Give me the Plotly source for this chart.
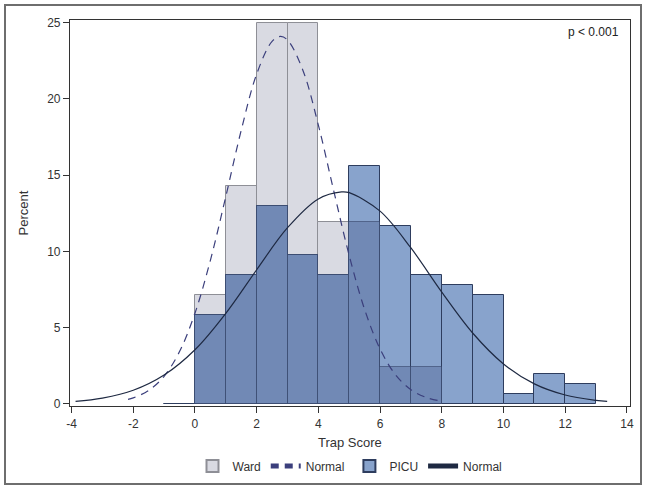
import plotly.graph_objects as go

# ---- data ----
ward_bin_left = [0, 1, 2, 3, 4, 5, 6, 7]
ward_pct = [7.14, 14.29, 25.0, 25.0, 11.90, 11.90, 2.38, 2.38]

picu_bin_left = [-1, 0, 1, 2, 3, 4, 5, 6, 7, 8, 9, 10, 11, 12]
picu_pct = [0.0, 5.84, 8.44, 12.99, 9.74, 8.44, 15.58, 11.69, 8.44, 7.79, 7.14, 0.65, 1.95, 1.30]

ward_norm_x = [-2.17, -2.0, -1.5, -1.0, -0.5, 0.0, 0.5, 1.0, 1.5, 2.0, 2.5, 2.77, 3.0, 3.5,
               4.0, 4.5, 5.0, 5.5, 6.0, 6.5, 7.0, 7.5, 8.0]
ward_norm_y = [0.28, 0.38, 0.87, 1.80, 3.42, 5.94, 9.41, 13.60, 17.95, 21.63, 23.78, 24.1, 23.87, 21.87,
               18.28, 13.95, 9.72, 6.18, 3.59, 1.90, 0.92, 0.41, 0.16]

picu_norm_x = [-3.87, -3.0, -2.0, -1.0, 0.0, 1.0, 2.0, 3.0, 4.0, 4.75, 5.0, 6.0, 7.0, 8.0,
               9.0, 10.0, 11.0, 12.0, 13.0, 13.36]
picu_norm_y = [0.15, 0.37, 0.88, 1.88, 3.54, 5.93, 8.79, 11.55, 13.44, 13.90, 13.85, 12.64, 10.22, 7.32,
               4.64, 2.61, 1.30, 0.57, 0.22, 0.15]

x_ticks = [-4, -2, 0, 2, 4, 6, 8, 10, 12, 14]
y_ticks = [0, 5, 10, 15, 20, 25]

BIN_W = 1.0
FONT = "Arial, 'Liberation Sans', Helvetica, sans-serif"

ward_centers = [b + BIN_W / 2 for b in ward_bin_left]
picu_centers = [b + BIN_W / 2 for b in picu_bin_left]
picu_lookup = dict(zip(picu_bin_left, picu_pct))
overlap_pct = [min(w, picu_lookup.get(b, 0.0)) for b, w in zip(ward_bin_left, ward_pct)]

fig = go.Figure()

fig.add_trace(go.Bar(
    x=ward_centers, y=ward_pct, width=BIN_W, name="Ward",
    marker=dict(color="#D9DAE2", line=dict(color="#8E8F96", width=1)),
    showlegend=True,
))
fig.add_trace(go.Scatter(
    x=ward_norm_x, y=ward_norm_y, mode="lines", name="Normal",
    line=dict(color="#3B3F7C", width=1.2, dash="8px,6px", shape="spline", smoothing=1.0),
))
fig.add_trace(go.Bar(
    x=picu_centers, y=picu_pct, width=BIN_W, name="PICU",
    marker=dict(color="#88A3CC", line=dict(color="#2E3D5E", width=1)),
))
fig.add_trace(go.Bar(
    x=ward_centers, y=overlap_pct, width=BIN_W, name="overlap",
    marker=dict(color="#7189B5", line=dict(color="rgba(46,61,94,0.55)", width=1)),
    showlegend=False, hoverinfo="skip",
))
fig.add_trace(go.Scatter(
    x=picu_norm_x, y=picu_norm_y, mode="lines", name="Normal",
    line=dict(color="#1E2942", width=1.2, shape="spline", smoothing=1.0),
))

# layout geometry in pixels
L, R, T, B = 70, 630, 20, 406
W = R - L
H = B - T
def px(xp):
    return (xp - L) / W
def py(yp):
    return (B - yp) / H

# outer frame around whole graph
fig.add_shape(type="rect", xref="paper", yref="paper",
              x0=px(5), x1=px(641), y0=py(484), y1=py(5),
              line=dict(color="#6E6E6E", width=2), fillcolor="rgba(0,0,0,0)", layer="below")

fig.add_annotation(text="p < 0.001", xref="paper", yref="paper",
                   x=px(621), y=py(32), xanchor="right", yanchor="middle",
                   showarrow=False, font=dict(family=FONT, size=12, color="#222"))

# x-axis title
fig.add_annotation(text="Trap Score", xref="paper", yref="paper",
                   x=0.5, y=py(443), xanchor="center", yanchor="middle",
                   showarrow=False, font=dict(family=FONT, size=13, color="#333"))

fig.update_layout(
    width=650, height=490, autosize=False,
    margin=dict(l=L, r=650 - R, t=T, b=490 - B, autoexpand=False),
    paper_bgcolor="white", plot_bgcolor="white",
    barmode="overlay", bargap=0,
    font=dict(family=FONT, size=12, color="#333"),
    legend=dict(orientation="h", x=0.5, xanchor="center", y=py(466), yanchor="middle",
                font=dict(family=FONT, size=12, color="#333"), itemsizing="constant",
                bgcolor="rgba(0,0,0,0)", tracegroupgap=0),
    showlegend=True,
)
fig.update_xaxes(
    range=[-4.05, 14.1], tickvals=x_ticks, ticktext=[str(t) for t in x_ticks],
    showgrid=False, zeroline=False, showline=True, linecolor="#333", linewidth=1.2, mirror=True,
    ticks="outside", ticklen=6, tickcolor="#333", tickfont=dict(size=12, color="#333"),
    automargin=False,
)
fig.update_yaxes(
    range=[-0.15, 25.18], tickvals=y_ticks, ticktext=[str(t) for t in y_ticks],
    showgrid=False, zeroline=False, showline=True, linecolor="#333", linewidth=1.2, mirror=True,
    ticks="outside", ticklen=6, tickcolor="#333", tickfont=dict(size=12, color="#333"),
    automargin=False,
    title=dict(text="Percent", font=dict(size=13, color="#333")),
)

fig.write_html("out.html",
               config={"displayModeBar": False},
               post_script="document.body.style.margin='0';document.body.style.padding='0';")
